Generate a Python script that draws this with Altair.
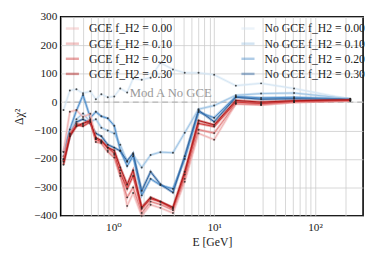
import altair as alt
import pandas as pd

# Energies (GeV)
E = [0.32, 0.37, 0.43, 0.50, 0.59, 0.67, 0.76, 0.88, 1.02, 1.17, 1.37, 1.57,
     1.91, 2.34, 2.93, 3.9, 5.1, 7.0, 10.0, 16.4, 29.2, 62.0, 224.0]

fracs = ["0.00", "0.10", "0.20", "0.30"]

gce_000 = [-175, -34, -28, -52, -41, -130, -140, -170, -185, -240, -365, -320,
           -400, -361, -372, -390, -280, -110, -132, -5, -10, 0, 5]
gce_010 = [-200, -110, -75, -80, -60, -140, -145, -175, -195, -260, -335, -300,
           -390, -350, -360, -380, -270, -97, -109, -6, -9, 0, 5]
gce_020 = [-210, -115, -80, -85, -70, -130, -140, -160, -180, -250, -305, -260,
           -375, -340, -350, -375, -255, -75, -86, 0, -5, 2, 6]
gce_030 = [-220, -120, -85, -75, -65, -125, -135, -160, -170, -230, -290, -240,
           -370, -335, -350, -370, -245, -65, -80, 6, 0, 5, 8]

nogce_000 = [-28, 41, 45, 31, 38, 10, 28, 17, 20, 48, 34, 83, 79, 86, 138, 115,
             103, 103, 96, 58, 66, 48, 10]
nogce_010 = [-190, -110, -60, -40, -70, -60, -90, -100, -110, -150, -210, -185,
             -230, -186, -176, -178, -108, -25, -12, 24, 30, 32, 12]
nogce_020 = [-175, -96, -30, 25, -55, -34, -50, -57, -83, -170, -225, -190,
             -328, -270, -292, -305, -200, -35, -55, 20, 15, 17, 11]
nogce_030 = [-205, -120, -70, -60, -75, -110, -120, -150, -160, -172, -207, -180,
             -312, -245, -289, -318, -190, -29, -69, 17, 10, 12, 9]

gce_colors = ["#f0b2b2", "#e27f7f", "#d03a3a", "#b01818"]
nogce_colors = ["#d6e6f4", "#9ec4e4", "#4f8fcb", "#2c639f"]

x_grid = [0.4, 0.5, 0.6, 0.7, 0.8, 0.9, 1, 2, 3, 4, 5, 6, 7, 8, 9,
          10, 20, 30, 40, 50, 60, 70, 80, 90, 100, 200]
y_ticks = [-400, -300, -200, -100, 0, 100, 200, 300]

ann_E = [3.7]
ann_y = [0]
ann_text = ["Mod A No GCE"]

FONT = "Liberation Serif, DejaVu Serif, serif"


def long(series, prefix):
    rows = []
    for f, s in zip(fracs, series):
        lab = f"{prefix} f_H2 = {f}"
        for e, v in zip(E, s):
            rows.append({"E": e, "dchi2": v, "label": lab})
    return pd.DataFrame(rows)


gce_df = long([gce_000, gce_010, gce_020, gce_030], "GCE")
nogce_df = long([nogce_000, nogce_010, nogce_020, nogce_030], "No GCE")

xscale = alt.Scale(type="log", domain=[0.3, 300], nice=False)
yscale = alt.Scale(domain=[-400, 300], nice=False)

xaxis = alt.Axis(values=x_grid, title="E [GeV]",
                 labelExpr="datum.value == 1 ? '10⁰' : datum.value == 10 ? '10¹' : datum.value == 100 ? '10²' : ''",
                 grid=True, gridColor="#cccccc", gridWidth=1, gridOpacity=0.8,
                 ticks=False, domain=False, labelPadding=6, titlePadding=4,
                 labelFlush=False, labelOverlap=False)
yaxis = alt.Axis(values=y_ticks, title="Δχ²", grid=True, gridColor="#cccccc",
                 gridOpacity=0.8, ticks=False, domain=False, labelPadding=4,
                 titlePadding=8, format="d", labelOverlap=False)

X = alt.X("E:Q", scale=xscale, axis=xaxis)
Y = alt.Y("dchi2:Q", scale=yscale, axis=yaxis)


def family(df, labels, colors, legend):
    color = alt.Color("label:N", scale=alt.Scale(domain=labels, range=colors),
                      legend=legend)
    base = alt.Chart(df).encode(x=X, y=Y, color=color, order=alt.Order("E:Q"))
    wide = base.mark_line(strokeWidth=2.6, opacity=0.45)
    thin = base.mark_line(strokeWidth=1.0)
    pts = alt.Chart(df).mark_point(filled=True, size=4, color="#222222",
                                   opacity=0.8).encode(x=X, y=Y)
    return alt.layer(wide, thin, pts)


gce_labels = [f"GCE f_H2 = {f}" for f in fracs]
nogce_labels = [f"No GCE f_H2 = {f}" for f in fracs]

leg_common = dict(title=None, orient="none", symbolType="stroke",
                  symbolStrokeWidth=2.5, symbolSize=180, labelFont=FONT,
                  labelFontSize=12, rowPadding=1.5, labelOffset=9,
                  labelColor="#222222")
gce_leg = alt.Legend(legendX=4, legendY=4, **leg_common)
nogce_leg = alt.Legend(legendX=184, legendY=4, **leg_common)

zero = alt.Chart(pd.DataFrame({"dchi2": ann_y})).mark_rule(
    strokeDash=[6, 4], color="#aaaaaa", strokeWidth=1).encode(y=Y)

ann = alt.Chart(pd.DataFrame({"E": ann_E, "dchi2": ann_y, "t": ann_text})).mark_text(
    font=FONT, fontSize=13, color="#999999", dy=-9).encode(x=X, y=Y, text="t:N")

chart = alt.layer(
    zero, ann,
    family(nogce_df, nogce_labels, nogce_colors, nogce_leg),
    family(gce_df, gce_labels, gce_colors, gce_leg),
).resolve_scale(color="independent").properties(
    width=310, height=204,
    padding={"left": 5, "top": 0, "right": 0, "bottom": 0},
).configure_view(stroke="black", strokeWidth=1.6).configure_axis(
    labelFont=FONT, titleFont=FONT, labelFontSize=11.5, titleFontSize=12,
    labelColor="#222222", titleColor="#222222", titleFontWeight="normal",
    labelOverlap=False
)

chart.save("out.html", embed_options={"renderer": "svg", "actions": False})
